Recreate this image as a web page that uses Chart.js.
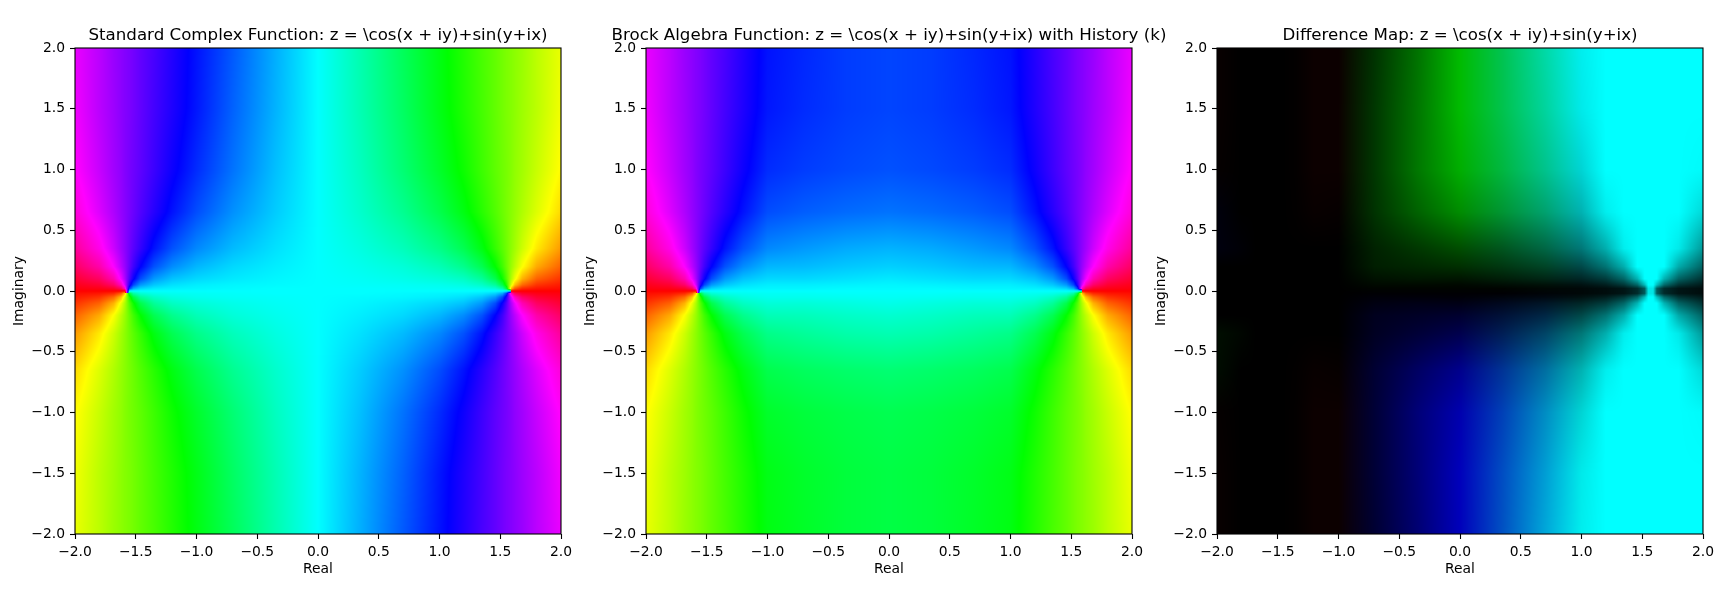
<!DOCTYPE html>
<html lang="en">
<head>
  <meta charset="UTF-8">
  <title>Standard vs Brock phase maps</title>
  <script src="https://cdn.jsdelivr.net/npm/chart.js"></script>
  <style>
    html, body { margin: 0; padding: 0; background: #fff; overflow: hidden; }
    #wrap { position: relative; width: 1728px; height: 600px; overflow: hidden; }
    canvas { position: absolute; top: 0; }
  </style>
</head>
<body>
  <div id="wrap">
    <canvas id="standard" width="610" height="600" style="left:0"></canvas>
    <canvas id="brock" width="610" height="600" style="left:571px"></canvas>
    <canvas id="difference" width="610" height="600" style="left:1142px"></canvas>
  </div>

<script>
  const tickValues = [-2, -1.5, -1, -0.5, 0, 0.5, 1, 1.5, 2];
  const tickLabels = ['−2.0', '−1.5', '−1.0', '−0.5', '0.0', '0.5', '1.0', '1.5', '2.0'];

  // sample positions, closer together around the two zeros
  const xSamples = [-2, -1.8, -1.68, -1.62, -1.59, -1.55, -1.52, -1.46, -1.35, -1.2, -1, -0.7, -0.35, 0, 0.35, 0.7, 1, 1.2, 1.35, 1.46, 1.52, 1.55, 1.59, 1.62, 1.68, 1.8, 2];
  const ySamples = [2, 1.5, 1, 0.65, 0.35, 0.2, 0.1, 0.05, 0.02, -0.02, -0.05, -0.1, -0.2, -0.35, -0.65, -1, -1.5, -2];

  // hue in degrees at each sample, one row per ySamples entry
  const standardHue = [
    [295,284,276,273,271,269,267,263,257,248,236,219,199,180,161,141,124,112,103,97,93,91,89,87,84,76,65],
    [297,284,277,273,271,269,267,263,256,247,235,217,198,180,162,143,125,113,104,97,93,91,89,87,83,76,63],
    [301,287,278,274,271,268,266,262,254,243,230,213,195,180,165,147,130,117,106,98,94,92,89,86,82,73,59],
    [309,292,281,275,272,268,265,259,249,236,222,206,192,180,168,154,138,124,111,101,95,92,88,85,79,68,51],
    [324,305,288,278,273,266,261,252,236,221,208,196,187,180,173,164,152,139,124,108,99,94,87,82,72,55,36],
    [337,320,299,284,276,264,255,240,221,207,197,189,184,180,176,171,163,153,139,120,105,96,84,76,61,40,23],
    [348,337,318,296,281,258,243,222,204,194,189,185,182,180,178,175,171,166,156,138,117,102,79,64,42,23,12],
    [354,348,335,315,291,247,224,204,193,187,184,182,181,180,179,178,176,173,167,156,136,113,69,45,25,12,6],
    [357,355,350,338,314,224,201,190,185,183,182,181,180,180,180,179,178,177,175,170,159,136,46,22,10,5,3],
    [3,5,10,22,46,136,159,170,175,177,178,179,180,180,180,181,182,183,185,190,201,224,314,338,350,355,357],
    [6,12,25,45,69,113,136,156,167,173,176,178,179,180,181,182,184,187,193,204,224,247,291,315,335,348,354],
    [12,23,42,64,79,102,117,138,156,166,171,175,178,180,182,185,189,194,204,222,243,258,281,296,318,337,348],
    [23,40,61,76,84,96,105,120,139,153,163,171,176,180,184,189,197,207,221,240,255,264,276,284,299,320,337],
    [36,55,72,82,87,94,99,108,124,139,152,164,173,180,187,196,208,221,236,252,261,266,273,278,288,305,324],
    [51,68,79,85,88,92,95,101,111,124,138,154,168,180,192,206,222,236,249,259,265,268,272,275,281,292,309],
    [59,73,82,86,89,92,94,98,106,117,130,147,165,180,195,213,230,243,254,262,266,268,271,274,278,287,301],
    [63,76,83,87,89,91,93,97,104,113,125,143,162,180,198,217,235,247,256,263,267,269,271,273,277,284,297],
    [65,76,84,87,89,91,93,97,103,112,124,141,161,180,199,219,236,248,257,263,267,269,271,273,276,284,295]
  ];

  const brockHue = [
    [295,284,276,273,271,269,267,263,257,248,236,231,226,224,226,231,236,248,257,263,267,269,271,273,276,284,295],
    [297,284,277,273,271,269,267,263,256,247,235,230,226,224,226,230,235,247,256,263,267,269,271,273,277,284,297],
    [301,287,278,274,271,268,266,262,254,243,230,226,223,221,223,226,230,243,254,262,266,268,271,274,278,287,301],
    [309,292,281,275,272,268,265,259,249,236,222,218,215,213,215,218,222,236,249,259,265,268,272,275,281,292,309],
    [324,305,288,278,273,266,261,252,236,221,208,204,200,198,200,204,208,221,236,252,261,266,273,278,288,305,324],
    [337,320,299,284,276,264,255,240,221,207,197,196,193,191,193,196,197,207,221,240,255,264,276,284,299,320,337],
    [348,337,318,296,281,258,243,222,204,194,189,189,187,185,187,189,189,194,204,222,243,258,281,296,318,337,348],
    [354,348,335,315,291,247,224,204,193,187,184,184,183,182,183,184,184,187,193,204,224,247,291,315,335,348,354],
    [357,355,350,338,314,224,201,190,185,183,182,182,181,181,181,182,182,183,185,190,201,224,314,338,350,355,357],
    [3,5,10,22,46,136,159,170,175,177,178,178,179,179,179,178,178,177,175,170,159,136,46,22,10,5,3],
    [6,12,25,45,69,113,136,156,167,173,176,176,177,178,177,176,176,173,167,156,136,113,69,45,25,12,6],
    [12,23,42,64,79,102,117,138,156,166,171,171,173,175,173,171,171,166,156,138,117,102,79,64,42,23,12],
    [23,40,61,76,84,96,105,120,139,153,163,164,167,169,167,164,163,153,139,120,105,96,84,76,61,40,23],
    [36,55,72,82,87,94,99,108,124,139,152,156,160,162,160,156,152,139,124,108,99,94,87,82,72,55,36],
    [51,68,79,85,88,92,95,101,111,124,138,142,145,147,145,142,138,124,111,101,95,92,88,85,79,68,51],
    [59,73,82,86,89,92,94,98,106,117,130,134,137,139,137,134,130,117,106,98,94,92,89,86,82,73,59],
    [63,76,83,87,89,91,93,97,104,113,125,130,134,136,134,130,125,113,104,97,93,91,89,87,83,76,63],
    [65,76,84,87,89,91,93,97,103,112,124,129,134,136,134,129,124,112,103,97,93,91,89,87,84,76,65]
  ];

  // the difference map is not a hue map, so its samples are plain colours
  const differenceColor = [
    '080000 000000 000000 000000 000000 000000 000000 000000 030000 0c0000 0c0000 003300 007200 00bb00 00c351 00d9a6 00eeee 00ffff 00ffff 00ffff 00ffff 00ffff 00ffff 00ffff 00ffff 00ffff 00ffff',
    '080000 000000 000000 000000 000000 000000 000000 000000 030000 0c0000 0c0000 003700 007600 00bb00 00c34d 00d49d 00eaea 00ffff 00ffff 00ffff 00ffff 00ffff 00ffff 00ffff 00ffff 00ffff 00ffff',
    '050000 000000 000000 000000 000000 000000 000000 000000 030000 0c0000 0c0000 003700 007700 00ae00 00b740 00c38c 00d4d4 00ffff 00ffff 00ffff 00ffff 00ffff 00ffff 00ffff 00ffff 00ffff 00fbfb',
    '00000c 000000 000000 000000 000000 000000 000000 000000 020000 080000 060000 003300 006200 008c00 009533 00a16e 00b2b2 00eeee 00ffff 00ffff 00ffff 00ffff 00ffff 00ffff 00ffff 00ffff 00d9d9',
    '00000e 000006 000000 000000 000000 000000 000000 000000 000000 000000 000000 002200 003700 004d00 00551e 006644 007777 00aeae 00eeee 00ffff 00ffff 00ffff 00ffff 00ffff 00ffff 00eaea 009999',
    '000000 000000 000000 000000 000000 000000 000000 000000 000000 000000 000000 001e00 002600 002f00 003711 004426 004848 007373 00aeae 00ffff 00ffff 00ffff 00ffff 00ffff 00ffff 00aaaa 006262',
    '000000 000000 000000 000000 000000 000000 000000 000000 000000 000000 000000 001100 001600 001500 001e08 002615 002626 003c3c 006666 00b2b2 00ffff 00ffff 00ffff 00ffff 00b3b3 006262 003333',
    '000000 000000 000000 000000 000000 000000 000000 000000 000000 000000 000000 000900 000900 000800 000d04 001108 001111 001e1e 003737 006666 00bbbb 00ffff 00ffff 00bfbf 006a6a 003333 001a1a',
    '000000 000000 000000 000000 000000 000000 000000 000000 000000 000000 000000 000400 000400 000400 000400 000804 000808 000d0d 001515 002b2b 005959 00e6e6 00e6e6 005e5e 002b2b 001515 000d0d',
    '000000 000000 000000 000000 000000 000000 000000 000000 000000 000000 000000 000004 000004 000004 000004 000408 000808 000d0d 001515 002b2b 005959 00e6e6 00e6e6 005e5e 002b2b 001515 000d0d',
    '000000 000000 000000 000000 000000 000000 000000 000000 000000 000000 000000 000009 000009 000008 00040d 000811 001111 001e1e 003737 006666 00bbbb 00ffff 00ffff 00bfbf 006a6a 003333 001a1a',
    '000000 000000 000000 000000 000000 000000 000000 000000 000000 000000 000000 000011 000016 000015 00081e 001526 002626 003c3c 006666 00b2b2 00ffff 00ffff 00ffff 00ffff 00b3b3 006262 003333',
    '000000 000000 000000 000000 000000 000000 000000 000000 000000 000000 000000 00001e 000026 00002f 001137 002644 004848 007373 00aeae 00ffff 00ffff 00ffff 00ffff 00ffff 00ffff 00aaaa 006262',
    '000e00 000600 000000 000000 000000 000000 000000 000000 000000 000000 000000 000022 000037 00004d 001e55 004466 007777 00aeae 00eeee 00ffff 00ffff 00ffff 00ffff 00ffff 00ffff 00eaea 009999',
    '000c00 000000 000000 000000 000000 000000 000000 000000 020000 080000 060000 000033 000062 00008c 003395 006ea1 00b2b2 00eeee 00ffff 00ffff 00ffff 00ffff 00ffff 00ffff 00ffff 00ffff 00d9d9',
    '050000 000000 000000 000000 000000 000000 000000 000000 030000 0c0000 0c0000 000037 000077 0000ae 0040b7 008cc3 00d4d4 00ffff 00ffff 00ffff 00ffff 00ffff 00ffff 00ffff 00ffff 00ffff 00fbfb',
    '080000 000000 000000 000000 000000 000000 000000 000000 030000 0c0000 0c0000 000037 000076 0000bb 004dc3 009dd4 00eaea 00ffff 00ffff 00ffff 00ffff 00ffff 00ffff 00ffff 00ffff 00ffff 00ffff',
    '080000 000000 000000 000000 000000 000000 000000 000000 030000 0c0000 0c0000 000033 000072 0000bb 0051c3 00a6d9 00eeee 00ffff 00ffff 00ffff 00ffff 00ffff 00ffff 00ffff 00ffff 00ffff 00ffff'
  ];

  const titles = [
    'Standard Complex Function: z = \\cos(x + iy)+sin(y+ix)',
    'Brock Algebra Function: z = \\cos(x + iy)+sin(y+ix) with History (k)',
    'Difference Map: z = \\cos(x + iy)+sin(y+ix)'
  ];

  const FONT = '"DejaVu Sans", sans-serif';

  function hueToRgb(h) {
    const k = n => {
      const t = (n + h / 60) % 6;
      return 255 * (1 - Math.max(0, Math.min(t, 4 - t, 1)));
    };
    return [k(5), k(3), k(1)];
  }

  function findCell(samples, v) {
    // samples may run up or down
    for (let i = 0; i < samples.length - 2; i++) {
      const a = samples[i], b = samples[i + 1];
      if ((v >= a && v <= b) || (v <= a && v >= b)) return i;
    }
    return samples.length - 2;
  }

  // pixel colour between four hue samples, going the short way round the wheel
  function hueShade(rows) {
    return (i, j, fx, fy) => {
      const a = rows[j][i];
      const d = b => ((b - a + 540) % 360) - 180;
      const top = d(rows[j][i + 1]) * fx;
      const bot = d(rows[j + 1][i]) * (1 - fx) + d(rows[j + 1][i + 1]) * fx;
      return hueToRgb((a + top * (1 - fy) + bot * fy + 720) % 360);
    };
  }

  // pixel colour between four plain colour samples
  function colorShade(rows) {
    const rgb = rows.map(r => r.split(' ').map(s => [0, 2, 4].map(n => parseInt(s.slice(n, n + 2), 16))));
    return (i, j, fx, fy) => [0, 1, 2].map(c => {
      const top = rgb[j][i][c] * (1 - fx) + rgb[j][i + 1][c] * fx;
      const bot = rgb[j + 1][i][c] * (1 - fx) + rgb[j + 1][i + 1][c] * fx;
      return top * (1 - fy) + bot * fy;
    });
  }

  // shades the plot area from the samples, positions come from the chart scales
  function phasePlugin(shade) {
    return {
      id: 'phaseImage',
      beforeDraw(chart) {
        const { ctx, chartArea: area, scales } = chart;
        const w = Math.round(area.right - area.left), h = Math.round(area.bottom - area.top);
        const img = ctx.createImageData(w, h);
        for (let py = 0; py < h; py++) {
          const yv = scales.y.getValueForPixel(area.top + py + 0.5);
          const j = findCell(ySamples, yv);
          const fy = (yv - ySamples[j]) / (ySamples[j + 1] - ySamples[j]);
          for (let px = 0; px < w; px++) {
            const xv = scales.x.getValueForPixel(area.left + px + 0.5);
            const i = findCell(xSamples, xv);
            const fx = (xv - xSamples[i]) / (xSamples[i + 1] - xSamples[i]);
            const c = shade(i, j, fx, fy);
            const p = (py * w + px) * 4;
            img.data[p] = c[0];
            img.data[p + 1] = c[1];
            img.data[p + 2] = c[2];
            img.data[p + 3] = 255;
          }
        }
        ctx.putImageData(img, area.left, area.top);
      }
    };
  }

  // frame on all four sides, plus the title centred over the axes
  function framePlugin(title) {
    return {
      id: 'frameTitle',
      afterDraw(chart) {
        const { ctx, chartArea: area } = chart;
        ctx.save();
        ctx.strokeStyle = '#000';
        ctx.lineWidth = 1.1;
        ctx.strokeRect(area.left, area.top, area.right - area.left, area.bottom - area.top);
        ctx.fillStyle = '#000';
        ctx.font = '16.67px ' + FONT;
        ctx.textAlign = 'center';
        ctx.textBaseline = 'alphabetic';
        ctx.fillText(title, (area.left + area.right) / 2, 40);
        ctx.restore();
      }
    };
  }

  function axis(label, fit, titlePadding) {
    return {
      type: 'linear',
      min: -2,
      max: 2,
      afterBuildTicks: scale => { scale.ticks = tickValues.map(v => ({ value: v })); },
      afterFit: fit,
      grid: { drawOnChartArea: false, drawTicks: true, tickLength: 5, tickColor: '#000', tickWidth: 1.1 },
      border: { display: false },
      ticks: {
        color: '#000',
        font: { family: FONT, size: 13.89 },
        padding: 5,
        maxRotation: 0,
        autoSkip: false,
        callback: (v, i) => tickLabels[i]
      },
      title: {
        display: true,
        text: label,
        color: '#000',
        font: { family: FONT, size: 13.89 },
        padding: titlePadding
      }
    };
  }

  function makePanel(id, shade, title) {
    const points = [];
    ySamples.forEach(y => xSamples.forEach(x => points.push({ x, y })));
    new Chart(document.getElementById(id), {
      type: 'scatter',
      data: { datasets: [{ data: points, pointRadius: 0 }] },
      options: {
        responsive: false,
        animation: false,
        events: [],
        layout: { padding: { top: 48, right: 49, left: 0, bottom: 0 } },
        plugins: { legend: { display: false }, tooltip: { enabled: false } },
        scales: {
          x: axis('Real', s => { s.height = 66; }, { bottom: 22 }),
          y: axis('Imaginary', s => { s.width = 75; }, { top: 11 })
        }
      },
      plugins: [phasePlugin(shade), framePlugin(title)]
    });
  }

  makePanel('standard', hueShade(standardHue), titles[0]);
  makePanel('brock', hueShade(brockHue), titles[1]);
  makePanel('difference', colorShade(differenceColor), titles[2]);
</script>
</body>
</html>
